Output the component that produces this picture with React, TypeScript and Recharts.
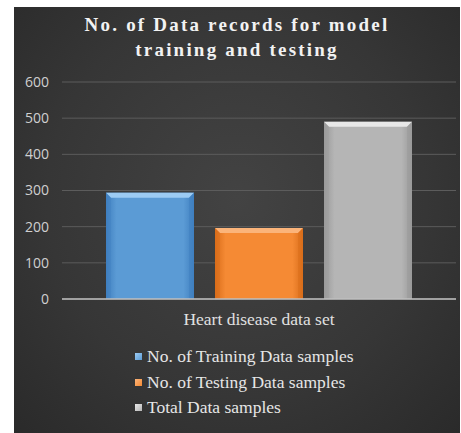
import { BarChart, Bar, XAxis, YAxis, CartesianGrid, Legend } from "recharts";

const categories = ["Heart disease data set"];
const trainingSamples = [294];
const testingSamples = [196];
const totalSamples = [490];
const yTicks = [0, 100, 200, 300, 400, 500, 600];

const seriesConfig = [
  { key: "training", label: "No. of Training Data samples", color: "#5b9bd5", light: "#9ccbf3", dark: "#3f7fbf" },
  { key: "testing", label: "No. of Testing Data samples", color: "#f58a34", light: "#fbb47a", dark: "#d96d1a" },
  { key: "total", label: "Total Data samples", color: "#b5b5b5", light: "#e8e8e8", dark: "#9a9a9a" },
];

const data = categories.map((name, i) => ({
  name,
  training: trainingSamples[i],
  testing: testingSamples[i],
  total: totalSamples[i],
}));

const serif = "'Liberation Serif', 'DejaVu Serif', serif";
const sans = "'Open Sans', 'Liberation Sans', sans-serif";

function BevelBar(props: any) {
  const { x, y, width, height, cfg } = props;
  if (!height || height <= 0) return null;
  const b = 5;
  return (
    <g>
      <rect x={x} y={y} width={width} height={height} fill={`url(#grad-${cfg.key})`} />
      <polygon
        points={`${x},${y} ${x + width},${y} ${x + width - b},${y + b} ${x + b},${y + b}`}
        fill={cfg.light}
      />
      <polygon
        points={`${x},${y} ${x + b},${y + b} ${x + b},${y + height} ${x},${y + height}`}
        fill={cfg.dark}
        opacity={0.35}
      />
      <polygon
        points={`${x + width},${y} ${x + width - b},${y + b} ${x + width - b},${y + height} ${x + width},${y + height}`}
        fill={cfg.dark}
        opacity={0.5}
      />
    </g>
  );
}

function LegendList() {
  return (
    <div style={{ fontFamily: serif, fontSize: 17.5, color: "#e6e6e6" }}>
      {seriesConfig.map((s) => (
        <div key={s.key} style={{ display: "flex", alignItems: "center", height: 25.5 }}>
          <span
            style={{
              display: "inline-block",
              width: 7,
              height: 7,
              marginRight: 5,
              background: `linear-gradient(135deg, ${s.light}, ${s.color})`,
            }}
          />
          {s.label}
        </div>
      ))}
    </div>
  );
}

export default function App() {
  return (
    <div
      style={{
        position: "absolute",
        left: 14,
        top: 7,
        width: 446,
        height: 426,
        background: "radial-gradient(ellipse at 50% 45%, #434343 0%, #363636 60%, #2a2a2a 100%)",
      }}
    >
      <div
        style={{
          position: "absolute",
          top: 5,
          left: 0,
          width: 446,
          textAlign: "center",
          fontFamily: serif,
          fontWeight: "bold",
          fontSize: 19,
          letterSpacing: 2.2,
          lineHeight: "25px",
          color: "#f2f2f2",
        }}
      >
        No. of Data records for model
        <br />
        training and testing
      </div>
      <BarChart
        width={446}
        height={426}
        data={data}
        margin={{ top: 75, right: 4, left: 0, bottom: 104 }}
        barCategoryGap={44}
        barGap={21}
      >
        <defs>
          {seriesConfig.map((s) => (
            <linearGradient key={s.key} id={`grad-${s.key}`} x1="0" y1="0" x2="1" y2="0">
              <stop offset="0%" stopColor={s.dark} />
              <stop offset="12%" stopColor={s.color} />
              <stop offset="88%" stopColor={s.color} />
              <stop offset="100%" stopColor={s.dark} />
            </linearGradient>
          ))}
        </defs>
        <CartesianGrid vertical={false} stroke="#5c5c5c" strokeWidth={1} />
        <XAxis
          dataKey="name"
          axisLine={{ stroke: "#bfbfbf", strokeWidth: 1.5 }}
          tickLine={false}
          tickSize={0}
          tickMargin={14}
          tick={{ fontFamily: serif, fontSize: 17.5, fill: "#e0e0e0" }}
        />
        <YAxis
          width={48}
          domain={[0, 600]}
          ticks={yTicks}
          axisLine={false}
          tickLine={false}
          tickSize={0}
          tickMargin={13}
          tick={{ fontFamily: sans, fontSize: 14, fill: "#d0d0d0" }}
        />
        <Legend
          layout="vertical"
          align="center"
          verticalAlign="middle"
          wrapperStyle={{ top: 337, left: 121, width: 280 }}
          content={() => <LegendList />}
        />
        {seriesConfig.map((s) => (
          <Bar
            key={s.key}
            dataKey={s.key}
            name={s.label}
            fill={s.color}
            isAnimationActive={false}
            shape={(p: any) => <BevelBar {...p} cfg={s} />}
          />
        ))}
      </BarChart>
    </div>
  );
}
